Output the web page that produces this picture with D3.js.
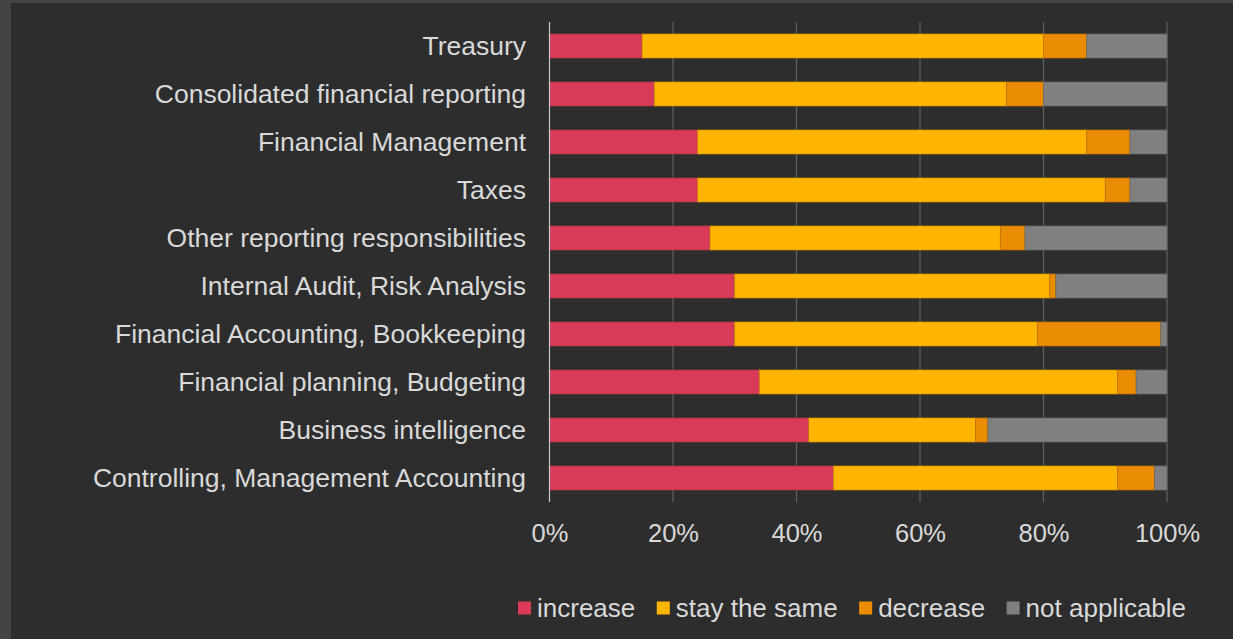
<!DOCTYPE html>
<html>
<head>
<meta charset="utf-8">
<script src="https://cdn.jsdelivr.net/npm/d3@7"></script>
<style>
  html, body { margin: 0; padding: 0; background: #444444; }
  svg { display: block; }
  text { font-family: "Liberation Sans", Arial, sans-serif; fill: #d9d9d9; }
</style>
</head>
<body>
<svg id="chart"></svg>
<script>
const width = 1233
const height = 639

const categories = [
  'Treasury',
  'Consolidated financial reporting',
  'Financial Management',
  'Taxes',
  'Other reporting responsibilities',
  'Internal Audit, Risk Analysis',
  'Financial Accounting, Bookkeeping',
  'Financial planning, Budgeting',
  'Business intelligence',
  'Controlling, Management Accounting',
]
const seriesNames = ['increase', 'stay the same', 'decrease', 'not applicable']
const increase = [15, 17, 24, 24, 26, 30, 30, 34, 42, 46]
const stayTheSame = [65, 57, 63, 66, 47, 51, 49, 58, 27, 46]
const decrease = [7, 6, 7, 4, 4, 1, 20, 3, 2, 6]
const notApplicable = [13, 20, 6, 6, 23, 18, 1, 5, 29, 2]
const tickValues = [0, 0.2, 0.4, 0.6, 0.8, 1]

const colors = ['#d93a57', '#ffb500', '#ea8c00', '#808080']

const rows = categories.map((c, i) => ({
  category: c,
  'increase': increase[i],
  'stay the same': stayTheSame[i],
  'decrease': decrease[i],
  'not applicable': notApplicable[i],
}))

const stacked = d3.stack().keys(seriesNames).offset(d3.stackOffsetExpand)(rows)

const svg = d3.select('#chart').attr('width', width).attr('height', height)

// panel
svg.append('rect')
  .attr('x', 11).attr('y', 3)
  .attr('width', width - 11).attr('height', height - 3)
  .attr('fill', '#2d2d2d')

const x = d3.scaleLinear().domain([0, 1]).range([549.5, 1167])
const y = d3.scaleBand().domain(categories).range([22, 502]).paddingInner(0.5).paddingOuter(0.25)

// gridlines
svg.append('g')
  .selectAll('line')
  .data(tickValues.slice(1))
  .enter()
  .append('line')
  .attr('x1', d => x(d)).attr('x2', d => x(d))
  .attr('y1', 22).attr('y2', 502)
  .attr('stroke', '#606060')
  .attr('stroke-width', 1.2)

const color = d3.scaleOrdinal().domain(seriesNames).range(colors)

svg.append('g')
  .selectAll('g')
  .data(stacked)
  .enter()
  .append('g')
  .attr('fill', d => color(d.key))
  .attr('stroke', d => d3.color(color(d.key)).darker(0.6))
  .attr('stroke-width', 0.7)
  .selectAll('rect')
  .data(d => d)
  .enter()
  .append('rect')
  .attr('x', d => x(d[0]))
  .attr('width', d => x(d[1]) - x(d[0]))
  .attr('y', d => y(d.data.category))
  .attr('height', y.bandwidth())

// left axis line
svg.append('line')
  .attr('x1', x(0)).attr('x2', x(0))
  .attr('y1', 22).attr('y2', 502)
  .attr('stroke', '#c8c8c8')
  .attr('stroke-width', 1.2)

// category labels
svg.append('g')
  .selectAll('text')
  .data(categories)
  .enter()
  .append('text')
  .attr('x', 526)
  .attr('y', d => y(d) + y.bandwidth() / 2)
  .attr('dy', '0.35em')
  .attr('text-anchor', 'end')
  .style('font-size', '26.5px')
  .text(d => d)

// x tick labels
const xAxis = svg.append('g')
  .attr('transform', 'translate(0, 502)')
  .call(d3.axisBottom(x).tickValues(tickValues).tickFormat(d3.format('.0%')).tickSize(0).tickPadding(22))
xAxis.select('.domain').remove()
xAxis.selectAll('text')
  .style('font-size', '25.5px')
  .style('font-family', '"Liberation Sans", Arial, sans-serif')
  .attr('fill', '#d9d9d9')

// legend
const legend = svg.append('g').attr('transform', 'translate(518, 608)')
let lx = 0
seriesNames.forEach(name => {
  const item = legend.append('g').attr('transform', `translate(${lx}, 0)`)
  item.append('rect')
    .attr('x', 0).attr('y', -6.5)
    .attr('width', 13).attr('height', 13)
    .attr('fill', color(name))
  const t = item.append('text')
    .attr('x', 19)
    .attr('dy', '0.35em')
    .style('font-size', '26px')
    .text(name)
  lx += 19 + t.node().getComputedTextLength() + 21.5
})
</script>
</body>
</html>
